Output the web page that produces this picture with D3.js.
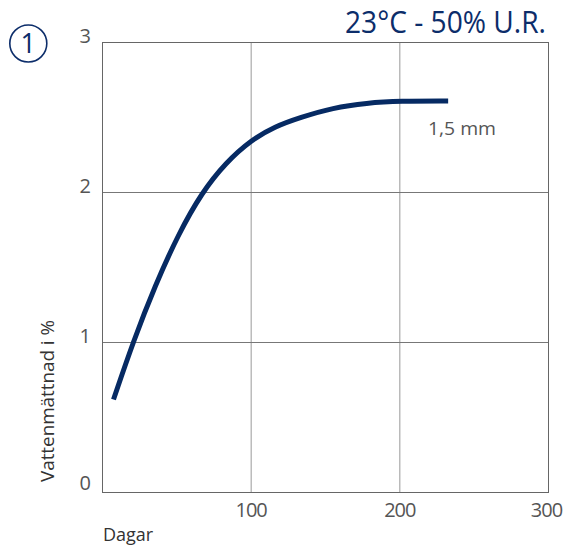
<!DOCTYPE html>
<html><head><meta charset="utf-8">
<script src="https://cdn.jsdelivr.net/npm/d3@7"></script>
<style>body{margin:0;background:#fff}svg{display:block}text{font-family:"Open Sans",sans-serif}</style>
</head><body>
<script>
const days = [7.4, 20.8, 35.4, 50.9, 66.8, 83, 100, 116, 132.8, 155, 177.7, 200, 232.5];
const saturation = [0.62, 1.01, 1.38, 1.72, 2.0, 2.2, 2.35, 2.44, 2.50, 2.565, 2.597, 2.61, 2.61];
const xTicks = [100, 200, 300];
const yTicks = [0, 1, 2, 3];
const title = "23°C - 50% U.R.";
const seriesLabel = "1,5 mm";
const xTitle = "Dagar";
const yTitle = "Vattenmättnad i %";
const panelNo = "1";

const W = 567, H = 546;
const svg = d3.select("body").append("svg").attr("width", W).attr("height", H);
const x = d3.scaleLinear().domain([0, 300]).range([102.5, 548.5]);
const y = d3.scaleLinear().domain([0, 3]).range([492.5, 42.5]);
const navy = "#062a63", gray = "#555";

// grid
svg.selectAll(".vg").data(xTicks.slice(0, -1)).join("line")
  .attr("x1", d => x(d)).attr("x2", d => x(d)).attr("y1", y(3)).attr("y2", y(0))
  .attr("stroke", "#999").attr("stroke-width", 1);
svg.selectAll(".hg").data(yTicks.slice(1, -1)).join("line")
  .attr("x1", x(0)).attr("x2", x(300)).attr("y1", d => y(d)).attr("y2", d => y(d))
  .attr("stroke", "#777").attr("stroke-width", 1);
svg.append("rect").attr("x", x(0)).attr("y", y(3)).attr("width", x(300) - x(0)).attr("height", y(0) - y(3))
  .attr("fill", "none").attr("stroke", "#666").attr("stroke-width", 1);

// tick labels
svg.selectAll(".yt").data(yTicks).join("text")
  .attr("x", 91).attr("y", d => y(d) - (d === 0 ? 3 : 0))
  .attr("text-anchor", "end").attr("font-size", 20).attr("fill", gray)
  .text(d => d);
svg.selectAll(".xt").data(xTicks).join("text")
  .attr("x", d => x(d) - (d === 300 ? 2 : 0)).attr("y", 517)
  .attr("text-anchor", "middle").attr("font-size", 20).attr("letter-spacing", -1).attr("fill", gray)
  .text(d => d);

// axis titles
svg.append("text").attr("x", 103).attr("y", 541).attr("font-size", 18).attr("fill", "#333").text(xTitle);
svg.append("text").attr("transform", "translate(54,401) rotate(-90)").attr("text-anchor", "middle")
  .attr("font-size", 19).attr("fill", "#333")
  .attr("textLength", 162).attr("lengthAdjust", "spacingAndGlyphs").text(yTitle);

// line
const line = d3.line().x((d, i) => x(days[i])).y(d => y(d)).curve(d3.curveBasis);
svg.append("path").datum(saturation).attr("d", line)
  .attr("fill", "none").attr("stroke", navy).attr("stroke-width", 5);

svg.append("text").attr("x", 428).attr("y", 135).attr("font-size", 19).attr("fill", gray)
  .attr("textLength", 68).attr("lengthAdjust", "spacingAndGlyphs").text(seriesLabel);

// title
svg.append("text").attr("x", 345).attr("y", 33).attr("font-size", 31).attr("fill", "#0c2d6a")
  .attr("textLength", 201).attr("lengthAdjust", "spacingAndGlyphs").text(title);

// circled number
svg.append("circle").attr("cx", 28.3).attr("cy", 43.5).attr("r", 18.5)
  .attr("fill", "none").attr("stroke", "#0c2d6a").attr("stroke-width", 1.6);
svg.append("text").attr("x", 28.3).attr("y", 53).attr("text-anchor", "middle")
  .attr("font-size", 27).attr("fill", "#0c2d6a").text(panelNo);
</script>
</body></html>
